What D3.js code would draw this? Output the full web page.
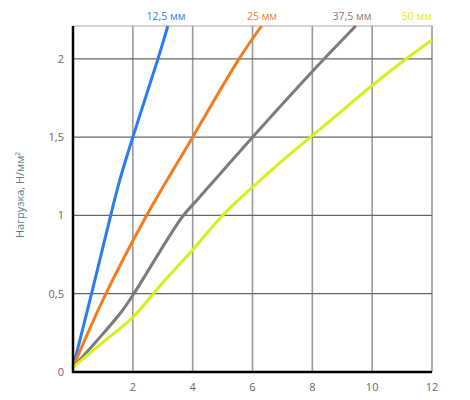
<!DOCTYPE html>
<html><head><meta charset="utf-8">
<script src="https://cdn.jsdelivr.net/npm/d3@7"></script>
<style>body{margin:0;background:#fff;}svg{display:block;font-family:"Open Sans",sans-serif;}</style>
</head><body><svg id="c" width="470" height="400"></svg>
<script>
const seriesNames = ["12,5 мм","25 мм","37,5 мм","50 мм"];
const seriesColors = ["#2b7cf0","#f47b1e","#7b7b7b","#d5f01c"];
const s125 = [[0,0.03],[0.62,0.5],[1.26,1.0],[1.57,1.23],[2,1.5],[2.84,2.0],[3.17,2.21]];
const s25 = [[0,0.03],[1.1,0.5],[2.46,1.0],[4,1.5],[5.55,2.0],[6.3,2.21]];
const s375 = [[0,0.03],[0.8,0.2],[1.6,0.38],[2,0.49],[3.65,0.99],[4.2,1.11],[6,1.5],[8,1.92],[9.45,2.21]];
const s50 = [[0,0.03],[1,0.19],[2,0.35],[3,0.57],[4,0.78],[5,1.0],[6,1.18],[7,1.35],[8,1.51],[9,1.67],[10,1.83],[11,1.98],[12,2.12]];
const xTicks = [2,4,6,8,10,12];
const yTicks = [0,0.5,1,1.5,2];
const yTickLabels = ["0","0,5","1","1,5","2"];
const yTitle = "Нагрузка, Н/мм²";

const svg = d3.select("#c");
const x = d3.scaleLinear().domain([0,12]).range([73,432]);
const y = d3.scaleLinear().domain([0,2.21]).range([372,26]);

svg.append("line").attr("x1",x(0)).attr("x2",x(12)).attr("y1",y(2.21)).attr("y2",y(2.21))
  .attr("stroke","#aaa").attr("stroke-width",1);
svg.append("g").selectAll("line").data(xTicks).join("line")
  .attr("x1",d=>x(d)).attr("x2",d=>x(d)).attr("y1",y(0)).attr("y2",y(2.21))
  .attr("stroke","#999").attr("stroke-width",1.6);
svg.append("g").selectAll("line").data(yTicks.filter(d=>d>0)).join("line")
  .attr("x1",x(0)).attr("x2",x(12)).attr("y1",d=>y(d)).attr("y2",d=>y(d))
  .attr("stroke","#666").attr("stroke-width",1.2);

const line = d3.line().x(d=>x(d[0])).y(d=>y(d[1])).curve(d3.curveCatmullRom.alpha(0.5));
const all = [s125,s25,s375,s50];
svg.append("g").selectAll("path").data(all).join("path")
  .attr("d",line).attr("fill","none")
  .attr("stroke",(d,i)=>seriesColors[i]).attr("stroke-width",3).attr("stroke-linejoin","round");

svg.append("line").attr("x1",x(0)).attr("x2",x(0)).attr("y1",y(0)+1).attr("y2",y(2.21))
  .attr("stroke","#000").attr("stroke-width",2.5);
svg.append("line").attr("x1",x(0)-1).attr("x2",x(12)).attr("y1",y(0)).attr("y2",y(0))
  .attr("stroke","#000").attr("stroke-width",2.5);

svg.append("g").selectAll("text").data(xTicks).join("text")
  .attr("x",d=>x(d)).attr("y",391).attr("text-anchor","middle")
  .attr("font-size",11).attr("fill","#666").text(d=>d);
svg.append("g").selectAll("text").data(yTicks).join("text")
  .attr("x",64).attr("y",d=>y(d)+4).attr("text-anchor","end")
  .attr("font-size",11).attr("fill","#666").text((d,i)=>yTickLabels[i]);

svg.append("text").attr("transform","translate(24,195) rotate(-90)")
  .attr("text-anchor","middle").attr("font-size",11).attr("fill","#5f7f88").text(yTitle);

const labelX = [166,262,352,432];
const labelAnchor = ["middle","middle","middle","end"];
svg.append("g").selectAll("text").data(seriesNames).join("text")
  .attr("x",(d,i)=>labelX[i]).attr("y",20).attr("text-anchor",(d,i)=>labelAnchor[i])
  .attr("font-size",10.5).attr("fill",(d,i)=>seriesColors[i]).text(d=>d);
</script></body></html>
